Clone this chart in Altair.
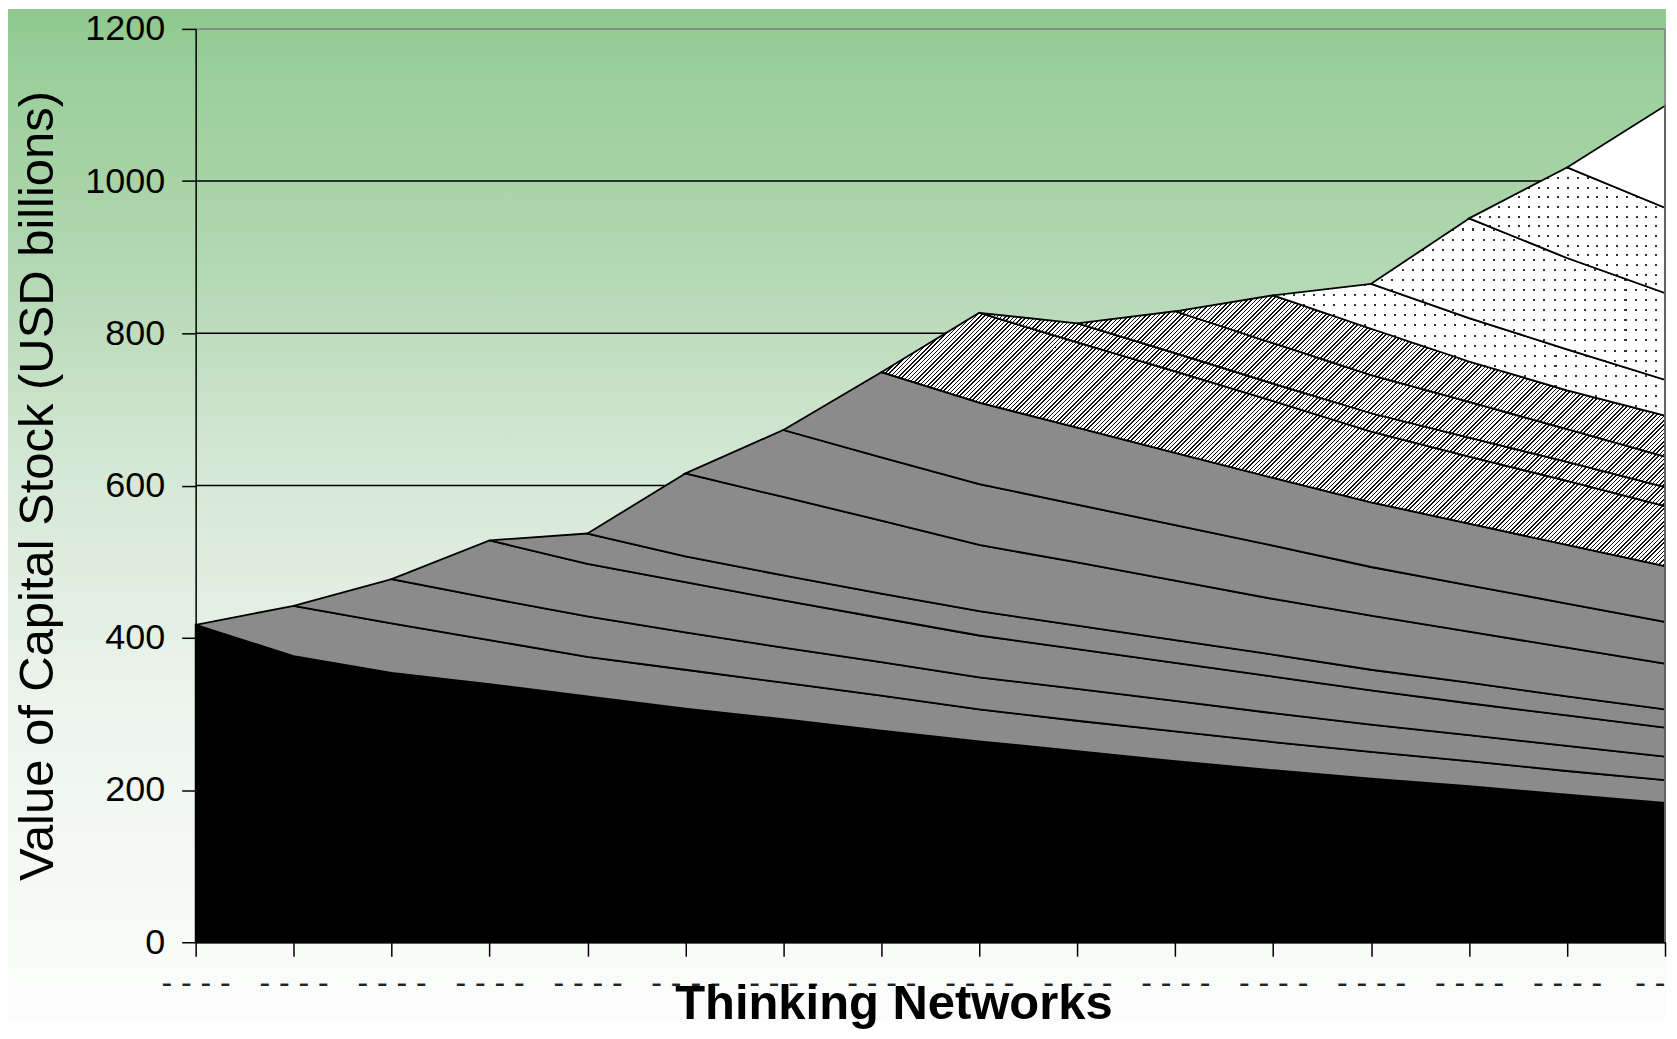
import json
import math
import altair as alt
import pandas as pd

# ---------------- data ----------------
years = list(range(16))
x_tick_labels = ["- - - -"] * 15 + ["- -"]
y_tick_values = [0, 200, 400, 600, 800, 1000, 1200]
grid_values = [200, 400, 600, 800, 1000]
y_title = "Value of Capital Stock (USD billions)"
x_title = "Thinking Networks"

# cumulative top (USD bn) of each vintage layer, from its first year to year 15
vintage_00 = [417, 376, 354, 339, 323, 307, 293, 278, 264, 251, 238, 226, 215, 205, 194, 183]
vintage_01 = [442, 419, 397, 375, 358, 341, 324, 306, 291, 277, 263, 250, 238, 225, 213]
vintage_02 = [477, 452, 428, 407, 387, 368, 348, 333, 317, 301, 286, 272, 258, 244]
vintage_03 = [528, 497, 473, 449, 426, 403, 385, 367, 349, 331, 314, 298, 282]
vintage_04 = [537, 507, 482, 458, 435, 416, 397, 378, 358, 341, 323, 306]
vintage_05 = [616, 585, 554, 522, 499, 475, 451, 429, 408, 387, 366]
vintage_06 = [673, 637, 602, 575, 548, 521, 493, 469, 445, 421]
vintage_07 = [749, 709, 676, 643, 610, 578, 550, 522, 494]
vintage_08 = [827, 788, 750, 711, 671, 638, 606, 573]
vintage_09 = [813, 774, 734, 695, 663, 631, 598]
vintage_10 = [829, 787, 745, 710, 674, 638]
vintage_11 = [850, 806, 763, 725, 692]
vintage_12 = [865, 820, 779, 739]
vintage_13 = [951, 899, 853]
vintage_14 = [1018, 965]
vintage_15 = [1099]

tops = [vintage_00, vintage_01, vintage_02, vintage_03, vintage_04, vintage_05,
        vintage_06, vintage_07, vintage_08, vintage_09, vintage_10, vintage_11,
        vintage_12, vintage_13, vintage_14, vintage_15]

rows = []
for k, top in enumerate(tops):
    first = 16 - len(top)
    for t in range(max(first - 1, 0), 16):
        if k == 0:
            bottom = 0
        else:
            prev = tops[k - 1]
            bottom = prev[t - (16 - len(prev))]
        value = bottom if t < first else top[t - first]
        rows.append({"year": t, "vintage": k, "top": value, "bottom": bottom})
df = pd.DataFrame(rows)

# ---------------- layout / style ----------------
PW, PH = 1472, 915
SX, SY = PW / 15.0, PH / 1200.0
FONT = "Liberation Sans"


def stripes(W, H, period, frac, c_on, c_off, mode):
    if mode == "diag":
        L = (W + H) / math.sqrt(2)
        kk = (W + H) * W / (W * W + H * H)
        x1, y1, x2, y2 = 0, 0, kk, kk * H / W
    elif mode == "x":
        L = W
        x1, y1, x2, y2 = 0, 0, 1, 0
    else:
        L = H
        x1, y1, x2, y2 = 0, 0, 0, 1
    n = max(1, int(round(L / period)))
    stops = []
    for i in range(n):
        a = round(i / n, 6)
        b = round((i + frac) / n, 6)
        c = round((i + 1) / n, 6)
        stops += [{"offset": a, "color": c_on}, {"offset": b, "color": c_on},
                  {"offset": b, "color": c_off}, {"offset": c, "color": c_off}]
    return {"gradient": "linear", "x1": x1, "y1": y1, "x2": x2, "y2": y2, "stops": stops}


def bbox(k):
    sub = df[df.vintage == k]
    W = (sub.year.max() - sub.year.min()) * SX
    H = max((sub.top.max() - sub.bottom.min()) * SY, 1.0)
    return W, H


xscale = alt.Scale(domain=[0, 15], nice=False, zero=False)
yscale = alt.Scale(domain=[0, 1200], nice=False, zero=True)

x_axis = alt.Axis(
    values=years, labelExpr=json.dumps(x_tick_labels) + "[datum.value]",
    labelAlign={"condition": {"test": "datum.value == 15", "value": "right"}, "value": "center"},
    grid=False, domainColor="black", domainWidth=1.5, tickColor="black",
    tickWidth=1.5, tickSize=14, labelFont=FONT, labelFontSize=32,
    labelColor="#222222", labelBaseline="alphabetic", labelPadding=36,
    labelOverlap=False, labelFlush=False, zindex=1,
    title=x_title, titleFont=FONT, titleFontSize=49, titleFontWeight="bold",
    titleColor="black", titleAlign="center", titleBaseline="alphabetic",
    titleX=699, titleY=76,
)
y_axis = alt.Axis(
    values=y_tick_values, format="d", grid=False, domainColor="black", domainWidth=1.5,
    tickColor="black", tickWidth=1.5, tickSize=14, labelFont=FONT,
    labelFontSize=36, labelColor="black", labelPadding=17, labelFlush=False,
    labelOverlap=False, zindex=1,
    title=y_title, titleFont=FONT, titleFontSize=49, titleFontWeight="normal",
    titleColor="black", titleAngle=270, titleAlign="center",
    titleBaseline="alphabetic", titleX=-143, titleY=PH / 2,
)

X = alt.X("year:Q", scale=xscale, axis=x_axis)
Y = alt.Y("top:Q", scale=yscale, axis=y_axis)

# background gradient covering the whole picture
bg_stops_page = [(8, "#8ec98e"), (80, "#9ccf9c"), (200, "#a9d4a9"), (290, "#b6d9b6"),
                 (450, "#d2e6d2"), (500, "#d8e9d8"), (700, "#ecf4ec"), (940, "#f8fbf8"),
                 (1023, "#fcfdfc")]
bg_grad = {"gradient": "linear", "x1": 0, "y1": 0, "x2": 0, "y2": 1,
           "stops": [{"offset": round((p - 8) / 1015, 4), "color": c} for p, c in bg_stops_page]}
bg = alt.Chart(pd.DataFrame({"a": [0]})).mark_rect(fill=bg_grad).encode(
    x=alt.value(-188), x2=alt.value(PW + 1), y=alt.value(-20), y2=alt.value(995))

grid = alt.Chart(pd.DataFrame({"g": grid_values})).mark_rule(
    color="black", strokeWidth=1.5).encode(y=alt.Y("g:Q", scale=yscale, axis=y_axis))

layers = [bg, grid]
for k in range(16):
    base = alt.Chart(df).transform_filter(alt.datum.vintage == k)
    enc = dict(x=X, y=Y, y2="bottom:Q")
    W, H = bbox(k)
    if k == 0:
        layers.append(base.mark_area(fill="black", stroke="black", strokeWidth=1.8).encode(**enc))
    elif k <= 7:
        layers.append(base.mark_area(fill="#8b8b8b", stroke="black", strokeWidth=1.8).encode(**enc))
    elif k <= 11:
        g = stripes(W, H, 3.0, 0.34, "#111111", "#ffffff", "diag")
        layers.append(base.mark_area(fill=g, stroke="black", strokeWidth=1.8).encode(**enc))
    elif k <= 14:
        gx = stripes(W, H, 10.0, 0.2, "#333333", "#ffffff", "x")
        gy = stripes(W, H, 10.0, 0.2, "rgba(255,255,255,0)", "#ffffff", "y")
        layers.append(base.mark_area(fill=gx).encode(**enc))
        layers.append(base.mark_area(fill=gy, stroke="black", strokeWidth=1.8).encode(**enc))
    else:
        layers.append(base.mark_area(fill="white", stroke="black", strokeWidth=1.8).encode(**enc))

top_border = alt.Chart(pd.DataFrame({"g": [1200]})).mark_rule(
    color="#7f7f7f", strokeWidth=1.5).encode(y=alt.Y("g:Q", scale=yscale, axis=y_axis))
right_border = alt.Chart(pd.DataFrame({"g": [15]})).mark_rule(
    color="#7f7f7f", strokeWidth=1.5).encode(x=alt.X("g:Q", scale=xscale, axis=x_axis))
layers += [top_border, right_border]

chart = alt.layer(*layers).properties(
    width=PW, height=PH, padding=0, background="white"
).configure_view(stroke=None)

chart.save("out.html", embed_options={"renderer": "svg", "actions": False})
